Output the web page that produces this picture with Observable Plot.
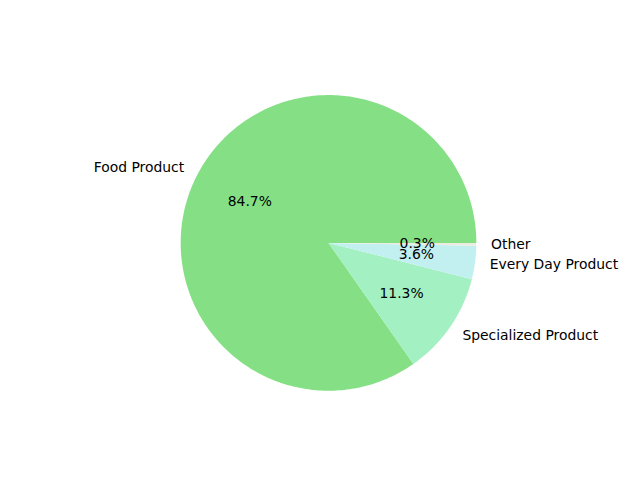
<!DOCTYPE html>
<html>
<head>
<meta charset="utf-8">
<script src="https://cdn.jsdelivr.net/npm/d3@7"></script>
<script src="https://cdn.jsdelivr.net/npm/@observablehq/plot@0.6"></script>
<style>
  html, body { margin: 0; padding: 0; background: #fff; }
  #chart svg { display: block; }
</style>
</head>
<body>
<div id="chart"></div>
<script>
const categories = ["Food Product", "Specialized Product", "Every Day Product", "Other"];
const values = [84.74, 11.32, 3.62, 0.32];
const colors = ["#85E085", "#A3F0C2", "#C2F0F0", "#EBEBE0"];

const total = d3.sum(values);
// matplotlib: start at angle 0 (3 o'clock), counterclockwise
let start = 0;
const slices = categories.map((c, i) => {
  const sweep = values[i] / total * 2 * Math.PI;
  const s = { name: c, a0: start, a1: start + sweep, value: values[i], color: colors[i] };
  start += sweep;
  return s;
});

const polyPts = [];
slices.forEach(s => {
  polyPts.push({ name: s.name, x: 0, y: 0 });
  const n = Math.max(2, Math.ceil((s.a1 - s.a0) / (Math.PI / 180)));
  for (let k = 0; k <= n; k++) {
    const a = s.a0 + (s.a1 - s.a0) * k / n;
    polyPts.push({ name: s.name, x: Math.cos(a), y: Math.sin(a) });
  }
  polyPts.push({ name: s.name, x: 0, y: 0 });
});

const labels = slices.map(s => {
  const m = (s.a0 + s.a1) / 2;
  return { name: s.name, x: 1.1 * Math.cos(m), y: 1.1 * Math.sin(m), anchor: Math.cos(m) >= 0 ? "start" : "end" };
});
const pcts = slices.map(s => {
  const m = (s.a0 + s.a1) / 2;
  return { text: (s.value / total * 100).toFixed(1) + "%", x: 0.6 * Math.cos(m), y: 0.6 * Math.sin(m) };
});

const font = { fontFamily: "DejaVu Sans", fontSize: 13.9, fill: "black" };

const chart = Plot.plot({
  width: 640,
  height: 480,
  marginTop: 57.6,
  marginBottom: 52.8,
  marginLeft: 80,
  marginRight: 64,
  x: { domain: [-1.6775, 1.6775], axis: null },
  y: { domain: [-1.25, 1.25], axis: null },
  color: { domain: categories, range: colors },
  style: { background: "white" },
  marks: [
    Plot.line(polyPts, { x: "x", y: "y", z: "name", fill: "name", stroke: "none", curve: "linear" }),
    Plot.text(labels.filter(d => d.anchor === "start"), { x: "x", y: "y", text: "name", textAnchor: "start", ...font }),
    Plot.text(labels.filter(d => d.anchor === "end"), { x: "x", y: "y", text: "name", textAnchor: "end", ...font }),
    Plot.text(pcts, { x: "x", y: "y", text: "text", textAnchor: "middle", ...font })
  ]
});
document.getElementById("chart").appendChild(chart);
</script>
</body>
</html>
